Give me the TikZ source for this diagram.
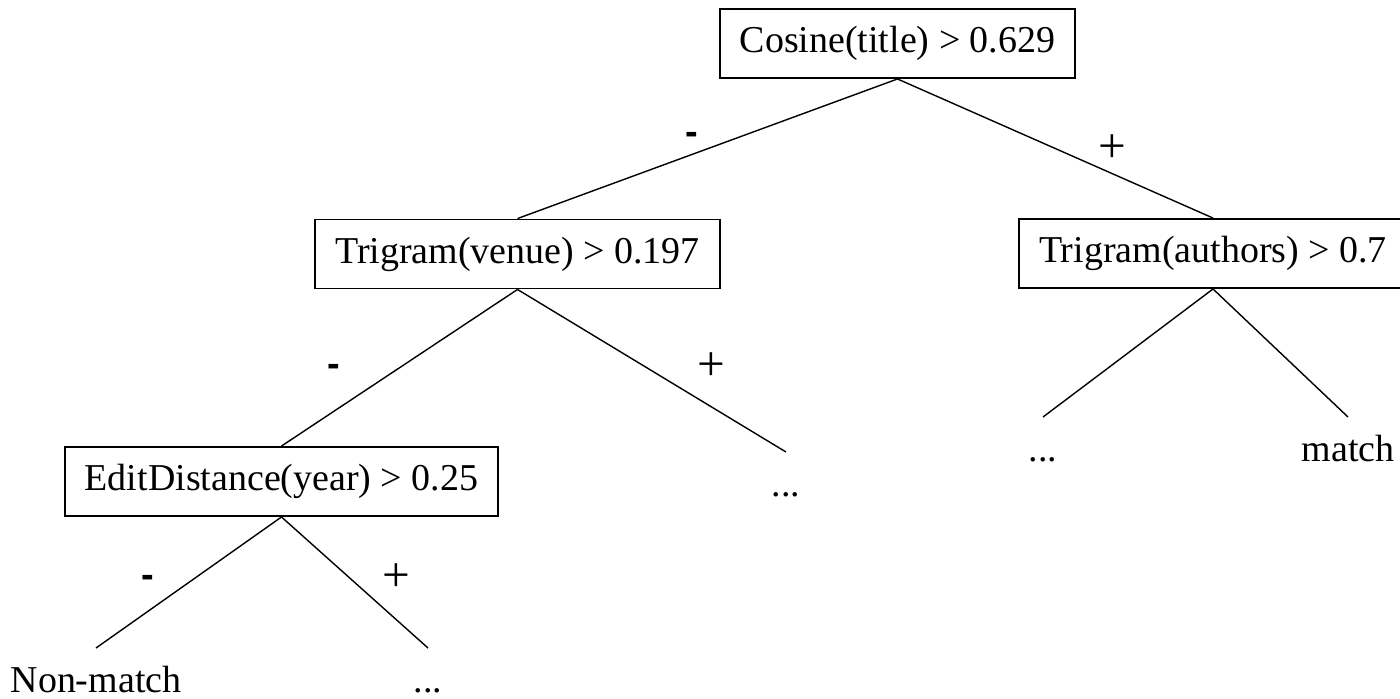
\documentclass[tikz,border=0pt]{standalone}
\usepackage{fontspec}
\setmainfont{Liberation Serif}
\newfontfamily\minusfont{Liberation Sans}
\usepackage{tikz}
\usetikzlibrary{positioning}
\tikzset{cond/.style = {draw, line width = 1.1pt, rectangle, inner xsep = 0.4cm,
                        inner ysep = 0, minimum height = 1.38cm}}
\tikzset{leaf/.style = {anchor = north, inner sep = 0, text height = 0.88cm}}
\tikzset{sgn/.style = {inner sep = 0, font = \fontsize{28pt}{32pt}\selectfont}}
\tikzset{neg/.style = {inner sep = 0,
                       font = \fontsize{21.6pt}{26pt}\minusfont\bfseries}}
\tikzset{branch/.style = {line width = 0.8pt}}

\begin{document}
\begin{tikzpicture}[x = 0.02cm, y = -0.02cm,
                    font = \fontsize{21.6pt}{26pt}\selectfont]
      \useasboundingbox (0, 0) rectangle (1400, 698);

      \node [cond] (root) at (897.5, 43.5) {Cosine(title) > 0.629};
      \node [cond] (venue) at (517.5, 254) {Trigram(venue) > 0.197};
      \node [cond] (authors) at (1213, 253.5) {Trigram(authors) > 0.7};
      \node [cond] (year) at (281.5, 481.5) {EditDistance(year) > 0.25};

      \node [leaf] (vplus) at (786, 452) {...};
      \node [leaf] (aminus) at (1043, 417) {...};
      \node [leaf] (aplus) at (1348, 417) {match};
      \node [leaf] (yminus) at (96, 648) {Non-match};
      \node [leaf] (yplus) at (428, 648) {...};

      \draw [branch] (root.south) -- (venue.north);
      \draw [branch] (root.south) -- (authors.north);
      \draw [branch] (venue.south) -- (year.north);
      \draw [branch] (venue.south) -- (vplus.north);
      \draw [branch] (authors.south) -- (aminus.north);
      \draw [branch] (authors.south) -- (aplus.north);
      \draw [branch] (year.south) -- (yminus.north);
      \draw [branch] (year.south) -- (yplus.north);

      \node [neg] (rootm) at (692, 138) {-};
      \node [sgn] (rootp) at (1112, 149) {+};
      \node [neg] (venuem) at (334, 370) {-};
      \node [sgn] (venuep) at (711, 367) {+};
      \node [neg] (yearm) at (148, 581) {-};
      \node [sgn] (yearp) at (396, 578) {+};

    \end{tikzpicture}
\end{document}
